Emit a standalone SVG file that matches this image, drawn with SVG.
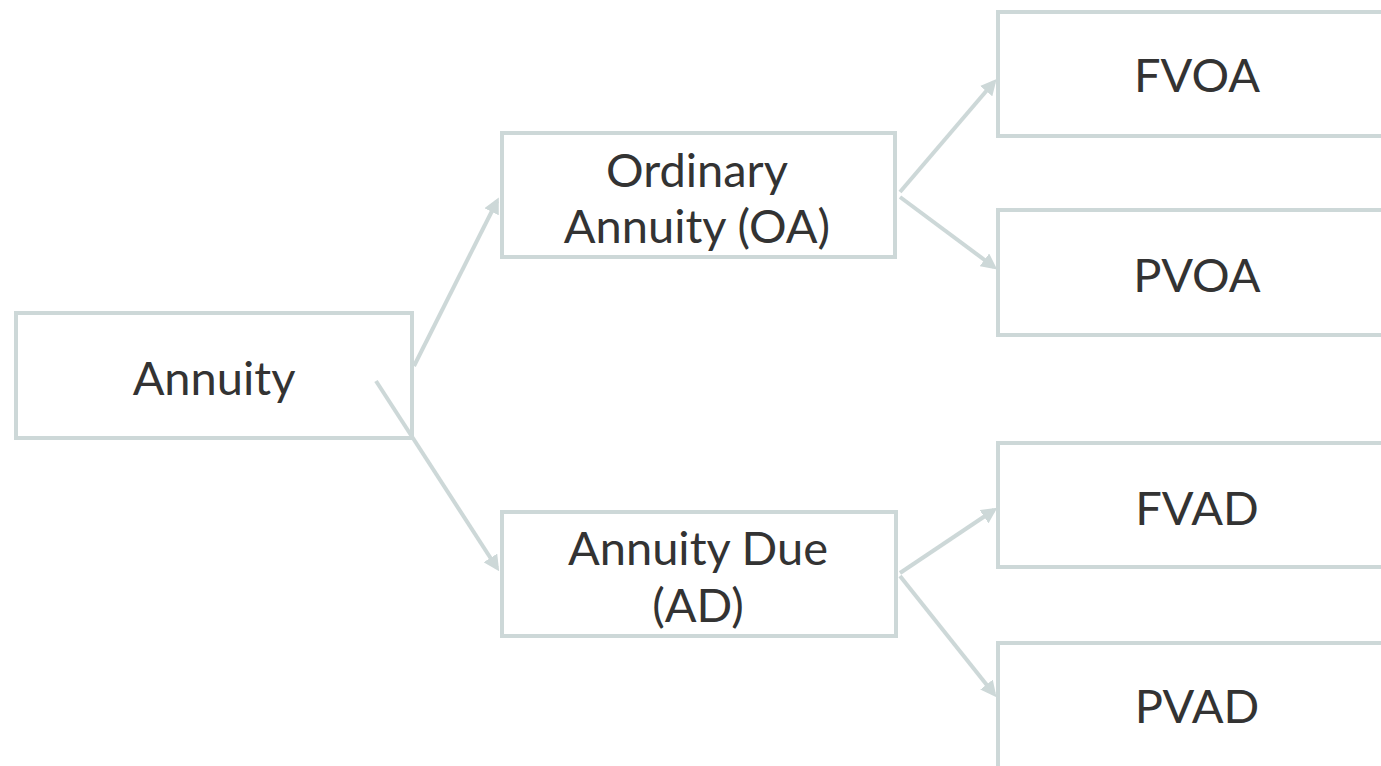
<svg xmlns="http://www.w3.org/2000/svg" width="1381" height="766" viewBox="0 0 1381 766">
<style>
.box{fill:#ffffff;stroke:#cdd8d8;stroke-width:4}
.lbl{font-family:Lato,"Open Sans",sans-serif;font-size:47px;fill:#333333;text-anchor:middle}
.conn{stroke:#cdd8d8;stroke-width:4;fill:none;marker-end:url(#ah)}
</style>
<defs>
<marker id="ah" markerWidth="4" markerHeight="4" refX="3" refY="2" orient="auto" markerUnits="strokeWidth">
<path d="M0,0 L4,2 L0,4 z" fill="#cdd8d8"/>
</marker>
</defs>
<rect width="1381" height="766" fill="#ffffff"/>
<g id="n-annuity"><rect class="box" x="16" y="313" width="396" height="125"/><text class="lbl" x="214" y="395">Annuity</text></g>
<g id="n-oa"><rect class="box" x="502" y="133" width="393" height="124"/><text class="lbl" x="697" y="187">Ordinary</text><text class="lbl" x="697" y="243">Annuity (OA)</text></g>
<g id="n-ad"><rect class="box" x="502" y="512" width="394" height="124"/><text class="lbl" x="698" y="565">Annuity Due</text><text class="lbl" x="698" y="622">(AD)</text></g>
<g id="n-fvoa"><rect class="box" x="998" y="12" width="400" height="124"/><text class="lbl" x="1197" y="92">FVOA</text></g>
<g id="n-pvoa"><rect class="box" x="998" y="210" width="400" height="125"/><text class="lbl" x="1197" y="292">PVOA</text></g>
<g id="n-fvad"><rect class="box" x="998" y="443" width="400" height="124"/><text class="lbl" x="1197" y="525">FVAD</text></g>
<g id="n-pvad"><rect class="box" x="998" y="643" width="400" height="140"/><text class="lbl" x="1197" y="723">PVAD</text></g>
<g id="connectors">
<line class="conn" x1="414" y1="366" x2="497" y2="201"/>
<line class="conn" x1="376" y1="381" x2="497" y2="568"/>
<line class="conn" x1="900" y1="192" x2="994" y2="82"/>
<line class="conn" x1="900" y1="197" x2="994" y2="267"/>
<line class="conn" x1="900" y1="573" x2="994" y2="510"/>
<line class="conn" x1="900" y1="576" x2="994" y2="694"/>
</g>
</svg>
